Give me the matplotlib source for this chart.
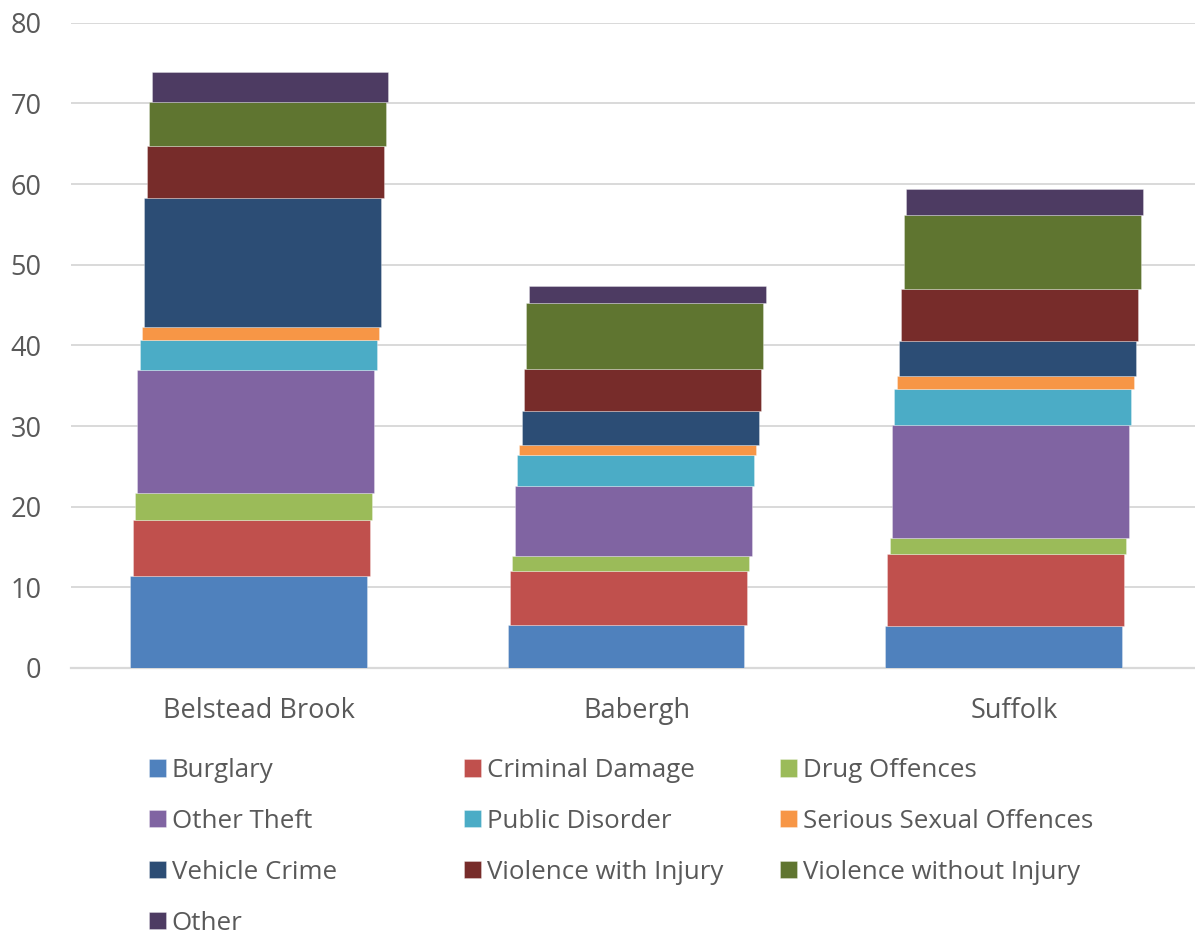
import matplotlib
matplotlib.use('Agg')
import matplotlib.pyplot as plt
import numpy as np

# crime rates per area
areas = ['Belstead Brook', 'Babergh', 'Suffolk']
crimes = ['Burglary', 'Criminal Damage', 'Drug Offences', 'Other Theft',
          'Public Disorder', 'Serious Sexual Offences', 'Vehicle Crime',
          'Violence with Injury', 'Violence without Injury', 'Other']

burglary = [11.4, 5.3, 5.2]
criminal_damage = [7.0, 6.7, 8.9]
drug_offences = [3.3, 1.9, 2.0]
other_theft = [15.2, 8.7, 14.0]
public_disorder = [3.8, 3.8, 4.5]
serious_sexual = [1.6, 1.2, 1.6]
vehicle_crime = [16.0, 4.3, 4.4]
violence_with = [6.4, 5.2, 6.4]
violence_without = [5.5, 8.1, 9.2]
other = [3.7, 2.1, 3.2]

series = [burglary, criminal_damage, drug_offences, other_theft, public_disorder,
          serious_sexual, vehicle_crime, violence_with, violence_without, other]

colors = ['#4F81BD', '#C0504D', '#9BBB59', '#8064A2', '#4BACC6',
          '#F79646', '#2C4D75', '#772C2A', '#5F7530', '#4D3B62']

plt.rcParams['font.family'] = ['Open Sans', 'DejaVu Sans']
txt = '#595959'

fig = plt.figure(figsize=(11.95, 9.36), dpi=100)
W, H = 1195, 936
ax = fig.add_axes([70.7 / W, 268 / H, (1202.6 - 70.7) / W, (668 - 22.7) / H])

x = np.arange(len(areas))
width = 0.628
shift = 0.00628  # each layer sits a little to the right (3D look)
bottom = np.zeros(len(areas))
handles = []
for i, (vals, c) in enumerate(zip(series, colors)):
    b = ax.bar(x + (i - 4.5) * shift, vals, width, bottom=bottom, color=c,
               edgecolor=(1, 1, 1, 0.35), linewidth=0.6, zorder=3, label=crimes[i])
    handles.append(b)
    bottom += np.array(vals)

ax.set_xlim(-0.5, 2.5)
ax.set_ylim(0, 80)
ax.set_yticks(range(0, 81, 10))
ax.set_xticks(x)
ax.set_xticklabels(areas)
ax.grid(axis='y', color='#D9D9D9', linewidth=1.4, zorder=0)
ax.set_axisbelow(True)
for s in ['top', 'right', 'left']:
    ax.spines[s].set_visible(False)
ax.spines['bottom'].set_color('#D9D9D9')
ax.spines['bottom'].set_linewidth(1.6)
ax.tick_params(axis='both', length=0, colors=txt, labelsize=19.5)
ax.tick_params(axis='y', pad=21)
ax.tick_params(axis='x', pad=21)

# legend, three columns filled row by row
cols = [[0, 3, 6, 9], [1, 4, 7], [2, 5, 8]]
col_x = [149, 464, 780]
for cx, idx in zip(col_x, cols):
    leg = fig.legend([handles[k] for k in idx], [crimes[k] for k in idx],
                     loc='upper left', bbox_to_anchor=(cx / W, (936 - 758) / H),
                     frameon=False, fontsize=18.6, handlelength=0.66, handleheight=0.66,
                     handletextpad=0.22, labelspacing=1.0, borderpad=0, borderaxespad=0)
    for t in leg.get_texts():
        t.set_color(txt)

fig.savefig('out.png', dpi=100)
